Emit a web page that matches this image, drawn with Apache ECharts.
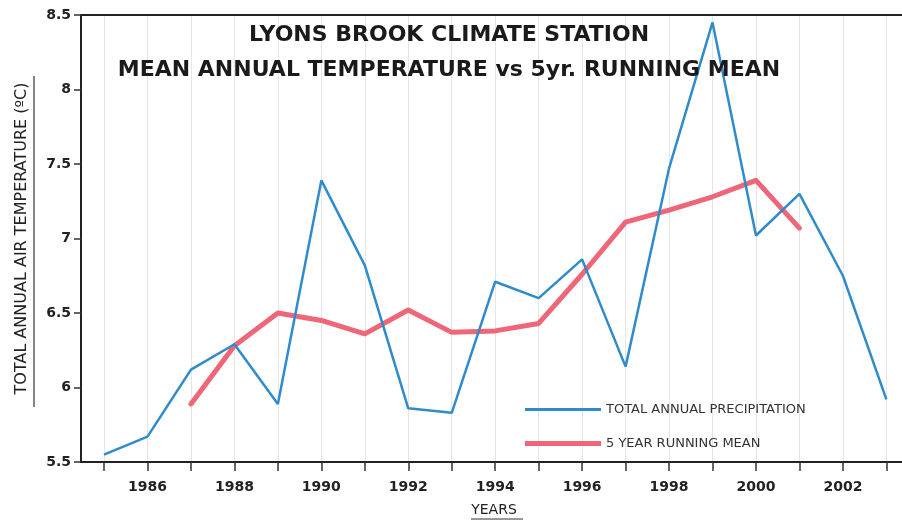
<!DOCTYPE html>
<html>
<head>
<meta charset="utf-8">
<script src="https://cdn.jsdelivr.net/npm/echarts@6/dist/echarts.min.js"></script>
<style>
  html, body { margin: 0; padding: 0; background: #fff; }
  #chart { width: 902px; height: 522px; }
</style>
</head>
<body>
<div id="chart"></div>
<script>
// years on the x axis
var years = [1985, 1986, 1987, 1988, 1989, 1990, 1991, 1992, 1993, 1994,
  1995, 1996, 1997, 1998, 1999, 2000, 2001, 2002, 2003]
var yearLabels = [1986, 1988, 1990, 1992, 1994, 1996, 1998, 2000, 2002]

// annual mean temperature (legend says precipitation, as on the original)
var annualTemp = [5.55, 5.67, 6.12, 6.29, 5.89, 7.39, 6.82, 5.86, 5.83, 6.71,
  6.60, 6.86, 6.14, 7.47, 8.45, 7.02, 7.30, 6.75, 5.92]

// 5 year running mean, 1987 - 2001
var meanYears = [1987, 1988, 1989, 1990, 1991, 1992, 1993, 1994, 1995, 1996,
  1997, 1998, 1999, 2000, 2001]
var runningMean = [5.89, 6.28, 6.50, 6.45, 6.36, 6.52, 6.37, 6.38, 6.43, 6.76,
  7.11, 7.19, 7.28, 7.39, 7.07]

var chart = echarts.init(document.getElementById('chart'))

var fontMain = '"DejaVu Sans", "Liberation Sans", sans-serif'
var legendText = {
  fontFamily: fontMain,
  fontSize: 13,
  color: '#333'
}

var option = {
  backgroundColor: '#fff',
  animation: false,
  title: [{
    text: 'LYONS BROOK CLIMATE STATION\nMEAN ANNUAL TEMPERATURE vs 5yr. RUNNING MEAN',
    left: 444,
    top: 13,
    textAlign: 'center',
    textStyle: {
      fontFamily: fontMain,
      fontWeight: 'bold',
      fontSize: 22,
      lineHeight: 35,
      color: '#1a1a1a'
    }
  }],
  grid: {
    left: 81,
    right: 0,
    top: 15,
    bottom: 55
  },
  // two legends so each swatch keeps its own thickness
  legend: [{
    left: 525,
    top: 403,
    padding: 0,
    itemWidth: 76,
    itemHeight: 3,
    icon: 'rect',
    data: ['TOTAL ANNUAL PRECIPITATION'],
    textStyle: legendText
  }, {
    left: 525,
    top: 437,
    padding: 0,
    itemWidth: 76,
    itemHeight: 5,
    icon: 'rect',
    data: ['5 YEAR RUNNING MEAN'],
    textStyle: legendText
  }],
  graphic: [{
    // underline of the y axis name
    type: 'line',
    shape: { x1: 34, y1: 76, x2: 34, y2: 407 },
    style: { stroke: '#333', lineWidth: 1.2 }
  }, {
    // underline of "YEARS"
    type: 'line',
    shape: { x1: 471, y1: 519, x2: 523, y2: 519 },
    style: { stroke: '#333', lineWidth: 1.2 }
  }],
  xAxis: [{
    type: 'value',
    min: 1984.47,
    max: 2003.36,
    name: 'YEARS',
    nameLocation: 'middle',
    nameGap: 41,
    nameTextStyle: {
      fontFamily: fontMain,
      fontSize: 14,
      color: '#222',
      padding: [0, 0, 0, 5]
    },
    axisLine: { lineStyle: { color: '#222', width: 2 } },
    axisTick: {
      show: true,
      inside: false,
      length: 9,
      customValues: years,
      lineStyle: { color: '#333', width: 1.5 }
    },
    axisLabel: {
      customValues: yearLabels,
      margin: 18,
      fontFamily: fontMain,
      fontWeight: 'bold',
      fontSize: 14,
      color: '#222',
      formatter: function (v) { return String(v) }
    },
    splitLine: {
      show: true,
      lineStyle: { color: '#e6e6e6', width: 1 }
    }
  }, {
    type: 'value',
    position: 'top',
    min: 1984.47,
    max: 2003.36,
    axisLine: { show: true, lineStyle: { color: '#222', width: 2 } },
    axisTick: { show: false },
    axisLabel: { show: false },
    splitLine: { show: false }
  }],
  yAxis: {
    type: 'value',
    min: 5.5,
    max: 8.5,
    interval: 0.5,
    name: 'TOTAL ANNUAL AIR TEMPERATURE (ºC)',
    nameLocation: 'middle',
    nameGap: 51,
    nameRotate: 90,
    nameTextStyle: {
      fontFamily: fontMain,
      fontSize: 16,
      color: '#222'
    },
    axisLine: { show: true, lineStyle: { color: '#222', width: 2 } },
    axisTick: {
      show: true,
      length: 7,
      lineStyle: { color: '#333', width: 1.5 }
    },
    axisLabel: {
      margin: 10,
      fontFamily: fontMain,
      fontWeight: 'bold',
      fontSize: 14,
      color: '#222',
      formatter: function (v) { return String(v) }
    },
    splitLine: { show: false }
  },
  series: [{
    name: 'TOTAL ANNUAL PRECIPITATION',
    type: 'line',
    symbol: 'none',
    color: '#2f8bcc',
    lineStyle: { color: '#2f8bcc', width: 2.5 },
    data: years.map(function (y, i) { return [y, annualTemp[i]] }),
    z: 3
  }, {
    name: '5 YEAR RUNNING MEAN',
    type: 'line',
    symbol: 'none',
    color: '#ee6677',
    lineStyle: { color: '#ee6677', width: 5, join: 'round', cap: 'round' },
    data: meanYears.map(function (y, i) { return [y, runningMean[i]] }),
    z: 2
  }]
}

chart.setOption(option)
</script>
</body>
</html>
